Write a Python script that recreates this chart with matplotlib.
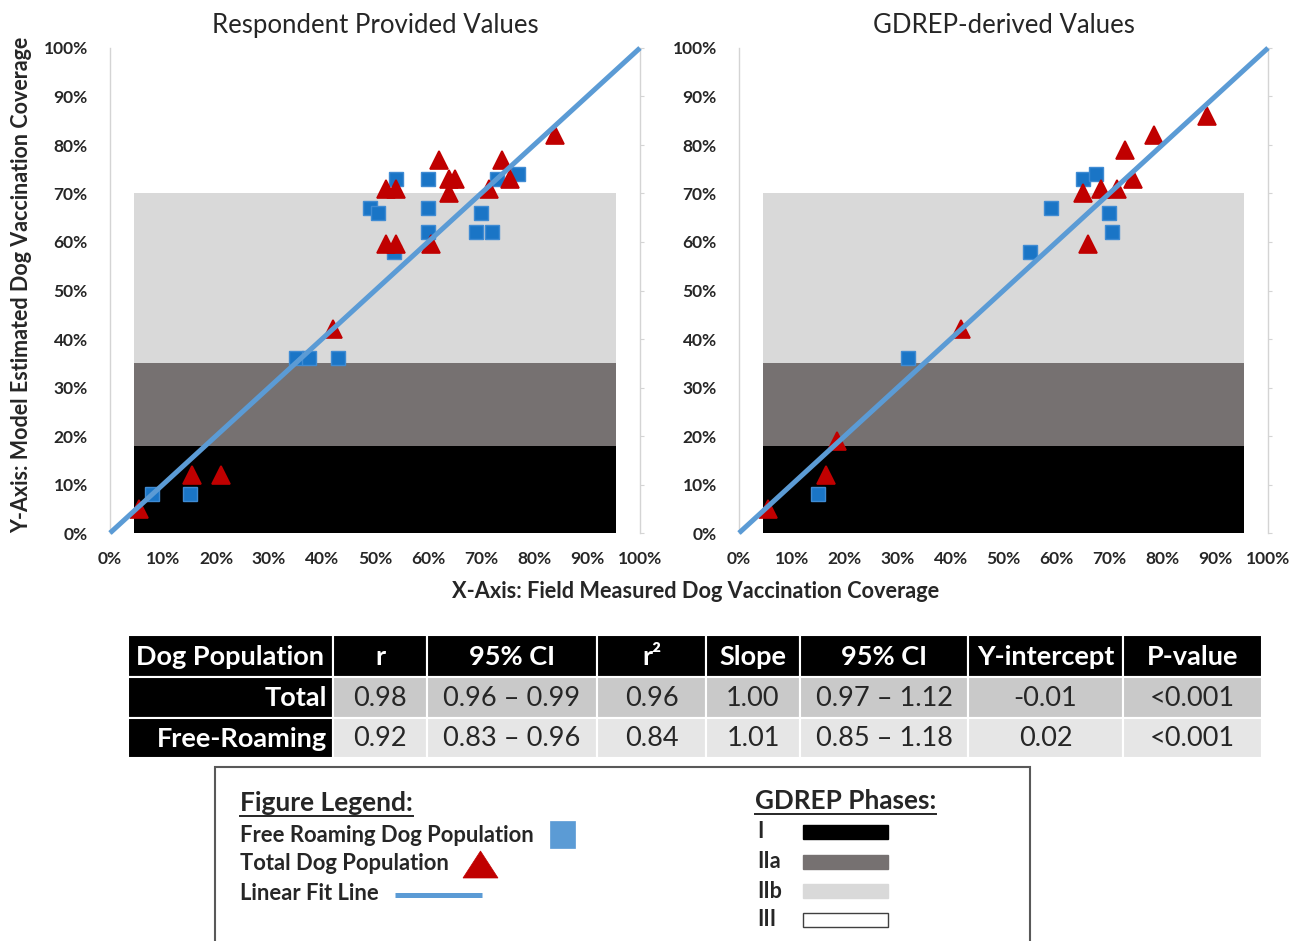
import matplotlib
matplotlib.use('Agg')
import matplotlib.pyplot as plt
from matplotlib.patches import Rectangle, Polygon
from matplotlib.ticker import FuncFormatter

plt.rcParams['font.family'] = ['Lato', 'DejaVu Sans']

# ---------------- data ----------------
titles = ["Respondent Provided Values", "GDREP-derived Values"]

# Respondent provided values (left panel)
resp_free_x = [8, 15, 35, 37.5, 43, 49, 50.5, 53.5, 54, 60, 60, 60, 69, 70, 72, 73, 77]
resp_free_y = [8, 8, 36, 36, 36, 67, 66, 58, 73, 73, 67, 62, 62, 66, 62, 73, 74]
resp_total_x = [5.5, 15.5, 21, 42, 52, 54, 52, 54, 60.5, 62, 64, 65, 64, 71.5, 74, 75.5, 84]
resp_total_y = [5, 12, 12, 42, 71, 71, 59.5, 59.5, 59.5, 77, 73, 73, 70, 71, 77, 73, 82]

# GDREP-derived values (right panel)
gdrep_free_x = [15, 32, 55, 59, 65, 67.5, 70, 70.5]
gdrep_free_y = [8, 36, 58, 67, 73, 74, 66, 62]
gdrep_total_x = [5.5, 16.5, 18.5, 42, 65, 66, 68.5, 71.5, 73, 74.5, 78.5, 88.5]
gdrep_total_y = [5, 12, 19, 42, 70, 59.5, 71, 71, 79, 73, 82, 86]

fit_x = [0, 100]
fit_y = [0, 100]

phase_names = ["I", "IIa", "IIb", "III"]
phase_lo = [0, 18, 35]
phase_hi = [18, 35, 70]
phase_colors = ["#000000", "#767171", "#d9d9d9"]

ticks = list(range(0, 101, 10))

table_header = ["Dog Population", "r", "95% CI", "r²", "Slope", "95% CI", "Y-intercept", "P-value"]
table_rows = ["Total", "Free-Roaming"]
table_values = [
    ["0.98", "0.96 – 0.99", "0.96", "1.00", "0.97 – 1.12", "-0.01", "<0.001"],
    ["0.92", "0.83 – 0.96", "0.84", "1.01", "0.85 – 1.18", "0.02", "<0.001"],
]

legend_items = ["Free Roaming Dog Population", "Total Dog Population", "Linear Fit Line"]

# ---------------- styling ----------------
W, H = 1293, 941
fig = plt.figure(figsize=(W / 100, H / 100), dpi=100)

SQ_FACE = "#1a75c6"
SQ_EDGE = "#3f8bd3"
TRI = "#c00000"
LINE = "#5b9bd5"
TXT = "#262626"
SPINE = "#d4d4d4"


def px_axes(x0, y0, x1, y1):
    return fig.add_axes([x0 / W, 1 - y1 / H, (x1 - x0) / W, (y1 - y0) / H])


panels = [
    (px_axes(110, 48, 640, 533), resp_free_x, resp_free_y, resp_total_x, resp_total_y),
    (px_axes(739, 48, 1268, 533), gdrep_free_x, gdrep_free_y, gdrep_total_x, gdrep_total_y),
]

for (ax, fx, fy, tx, ty), title in zip(panels, titles):
    for lo, hi, c in zip(phase_lo, phase_hi, phase_colors):
        ax.axhspan(lo, hi, xmin=0.045, xmax=0.955, color=c, lw=0, zorder=1)
    ax.plot(fx, fy, ls="none", marker="s", ms=10.5, mfc=SQ_FACE, mec=SQ_EDGE,
            mew=1.0, zorder=3)
    ax.plot(tx, ty, ls="none", marker="^", ms=13, mfc=TRI, mec=TRI, mew=1.2,
            zorder=4)
    ax.plot(fit_x, fit_y, color=LINE, lw=3.6, solid_capstyle="butt", zorder=5,
            clip_on=False)
    ax.set_xlim(0, 100)
    ax.set_ylim(0, 100)
    ax.set_xticks(ticks)
    ax.set_yticks(ticks)
    fmt = FuncFormatter(lambda v, p: f"{int(round(v))}%")
    ax.xaxis.set_major_formatter(fmt)
    ax.yaxis.set_major_formatter(fmt)
    for s in ["top", "bottom"]:
        ax.spines[s].set_visible(False)
    for s in ["left", "right"]:
        ax.spines[s].set_color(SPINE)
        ax.spines[s].set_linewidth(1.0)
    ax.tick_params(axis="x", length=0, pad=13, labelsize=12.5, labelcolor=TXT)
    ax.tick_params(axis="y", left=False, right=True, direction="out", length=3,
                   color=SPINE, pad=13, labelsize=12.5, labelcolor=TXT)
    for lab in ax.get_xticklabels() + ax.get_yticklabels():
        lab.set_fontweight("bold")
    ax.set_title(title, fontsize=18.5, color=TXT, pad=11)

fig.text(22 / W, 1 - 285 / H, "Y-Axis: Model Estimated Dog Vaccination Coverage",
         rotation=90, ha="center", va="center", fontsize=15.5, fontweight="bold",
         color=TXT)
fig.text(696 / W, 1 - 592 / H, "X-Axis: Field Measured Dog Vaccination Coverage",
         ha="center", va="center", fontsize=15.7, fontweight="bold", color=TXT)

# ---------------- overlay for table and legend ----------------
ov = fig.add_axes([0, 0, 1, 1])
ov.set_xlim(0, W)
ov.set_ylim(H, 0)
ov.axis("off")
ov.patch.set_alpha(0)

col_edges = [128, 333, 427, 597, 706, 800, 968, 1123, 1262]
row_edges = [635, 677, 718, 758]
row_bg = ["#c9c9c9", "#e6e6e6"]
TFS = 19.5

for j, hdr in enumerate(table_header):
    x0, x1 = col_edges[j], col_edges[j + 1]
    y0, y1 = row_edges[0], row_edges[1]
    ov.add_patch(Rectangle((x0, y0), x1 - x0, y1 - y0, facecolor="black",
                           edgecolor="white", lw=1.5))
    ov.text((x0 + x1) / 2, (y0 + y1) / 2 + 1, hdr, ha="center", va="center",
            color="white", fontsize=TFS, fontweight="bold")

for i, (rname, vals) in enumerate(zip(table_rows, table_values)):
    y0, y1 = row_edges[i + 1], row_edges[i + 2]
    x0, x1 = col_edges[0], col_edges[1]
    ov.add_patch(Rectangle((x0, y0), x1 - x0, y1 - y0, facecolor="black",
                           edgecolor="white", lw=1.5))
    ov.text(x1 - 6, (y0 + y1) / 2 + 1, rname, ha="right", va="center",
            color="white", fontsize=TFS, fontweight="bold")
    for j, v in enumerate(vals):
        x0, x1 = col_edges[j + 1], col_edges[j + 2]
        ov.add_patch(Rectangle((x0, y0), x1 - x0, y1 - y0, facecolor=row_bg[i],
                               edgecolor="white", lw=1.5))
        ov.text((x0 + x1) / 2, (y0 + y1) / 2 + 1, v, ha="center", va="center",
                color=TXT, fontsize=TFS)

# legend box
ov.add_patch(Rectangle((215, 767), 815, 200, facecolor="white",
                       edgecolor="#595959", lw=1.5, clip_on=True))

fig.canvas.draw()
renderer = fig.canvas.get_renderer()


def underlined(x, y, s, size):
    t = ov.text(x, y, s, ha="left", va="center", fontsize=size,
                fontweight="bold", color=TXT)
    bb = t.get_window_extent(renderer=renderer)
    inv = ov.transData.inverted()
    (ax0, ay0), (ax1, ay1) = inv.transform([[bb.x0, bb.y0], [bb.x1, bb.y1]])
    ov.plot([ax0, ax1], [ay0 + 1, ay0 + 1], color=TXT, lw=1.4)
    return t


underlined(240, 803, "Figure Legend:", 19)
underlined(755, 801, "GDREP Phases:", 18.8)

leg_y = [835, 864, 893]
for s, yy in zip(legend_items, leg_y):
    ov.text(240, yy, s, ha="left", va="center", fontsize=15.8, fontweight="bold",
            color=TXT)

ov.add_patch(Rectangle((550, 821), 25, 27, facecolor=LINE, edgecolor=LINE, lw=0.5))
ov.add_patch(Polygon([[463, 878], [498, 878], [480.5, 851]], closed=True,
                     facecolor=TRI, edgecolor=TRI, lw=0.5))
ov.plot([395, 482], [895, 895], color=LINE, lw=3.6, solid_capstyle="butt")

phase_y = [832, 862, 891, 920]
swatch_colors = phase_colors + ["white"]
for name, yy, c in zip(phase_names, phase_y, swatch_colors):
    ov.text(757, yy, name, ha="left", va="center", fontsize=15.5, fontweight="bold",
            color=TXT)
    ov.add_patch(Rectangle((803, yy - 7), 85, 14, facecolor=c,
                           edgecolor="#404040" if c == "white" else c, lw=1.0))

fig.savefig("out.png", dpi=100)
